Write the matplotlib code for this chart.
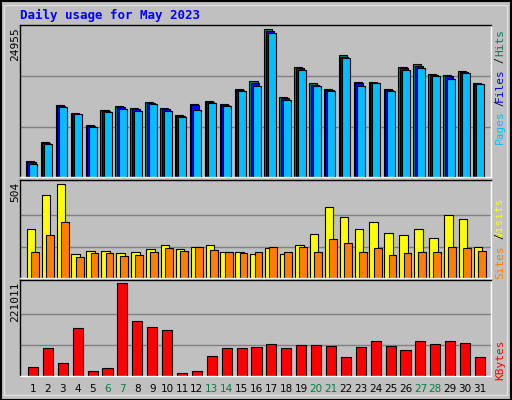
import matplotlib
matplotlib.use("Agg")
import matplotlib.pyplot as plt
import numpy as np

days = list(range(1, 32))
weekend = [6, 7, 13, 14, 20, 21, 27, 28]
# values
hits = [2654, 5872, 12139, 10784, 8751, 11292, 11970, 11631, 12647, 11631, 10445, 12308, 12817, 12308,
        14849, 16204, 24955, 13494, 18575, 15865, 14849, 20608, 16035, 16035, 14849, 18575, 19084,
        17390, 17220, 17898, 15865]
files = [2485, 5702, 11970, 10614, 8581, 11123, 11800, 11462, 12478, 11462, 10275, 12139, 12647, 12139,
         14679, 15865, 24616, 13325, 18405, 15526, 14679, 20270, 15865, 15865, 14679, 18405, 18800,
         17220, 17051, 17729, 15696]
pages = [2146, 5533, 11800, 10614, 8412, 10953, 11462, 11123, 12308, 11123, 10106, 11292, 12478, 11970,
         14510, 15358, 24334, 12986, 18067, 15358, 14510, 20100, 15358, 15865, 14510, 18067, 18405,
         17051, 16543, 17560, 15696]
visits = [264, 443, 504, 127, 144, 144, 133, 138, 155, 177, 155, 166, 177, 138, 138, 127, 160, 127,
          177, 237, 379, 324, 264, 297, 242, 231, 264, 215, 339, 317, 166]
sites = [138, 231, 297, 111, 133, 133, 117, 122, 138, 160, 144, 166, 149, 138, 133, 138, 166, 138,
         166, 138, 209, 187, 138, 160, 122, 133, 138, 138, 166, 160, 144]
kbytes = [22585, 66142, 29844, 114516, 12905, 20164, 221011, 131453, 116936, 109677, 8066, 12905,
          46785, 66142, 66142, 68562, 75820, 66142, 73401, 73401, 70981, 44366, 68562, 83079, 70981,
          61303, 83079, 75820, 83079, 78240, 44366]

W, H = 512, 400
fig = plt.figure(figsize=(W / 100, H / 100), dpi=100)
fig.patch.set_facecolor("#C0C0C0")
fig.add_artist(plt.Rectangle((0.5 / W, 0.5 / H), 1 - 1.5 / W, 1 - 1.5 / H, transform=fig.transFigure,
                             fill=False, edgecolor="black", lw=1.5))
fig.add_artist(plt.Rectangle((4 / W, 5 / H), 1 - 9 / W, 1 - 10 / H, transform=fig.transFigure,
                             fill=False, edgecolor="#E0E0E0", lw=1))

mono = "DejaVu Sans Mono"
x0, x1 = 20, 491
xl = (1 - 13 / 14.9, 31 + 11 / 14.9)
d = np.array(days)


def mkax(ytop, ybot):
    ax = fig.add_axes([x0 / W, 1 - ybot / H, (x1 - x0) / W, (ybot - ytop) / H])
    ax.set_facecolor("#C0C0C0")
    ax.set_xlim(*xl)
    ax.set_xticks([]); ax.set_yticks([])
    for s in ax.spines.values():
        s.set_color("black"); s.set_linewidth(1)
    ax.spines["right"].set_color("white"); ax.spines["bottom"].set_color("white")
    return ax


ax1 = mkax(25, 177)
ax1.set_ylim(0, 25690)
for g in (8400, 16990):
    ax1.axhline(g, color="#808080", lw=1, zorder=0)
bw = 0.54
ax1.bar(d - 0.2, hits, bw, color="#00805C", edgecolor="black", lw=0.8)
ax1.bar(d - 0.1, files, bw, color="#0000FF", edgecolor="black", lw=0.8)
ax1.bar(d + 0.03, pages, bw, color="#00BFFF", edgecolor="black", lw=0.8)

ax2 = mkax(180, 278)
ax2.set_ylim(0, 524)
for g in (168, 336):
    ax2.axhline(g, color="#808080", lw=1, zorder=0)
ax2.bar(d - 0.13, visits, 0.58, color="#FFFF00", edgecolor="black", lw=0.8)
ax2.bar(d + 0.13, sites, 0.52, color="#FF8000", edgecolor="black", lw=0.8)

ax3 = mkax(280, 376)
ax3.set_ylim(0, 229000)
for g in (73670, 147340):
    ax3.axhline(g, color="#808080", lw=1, zorder=0)
ax3.bar(d, kbytes, 0.68, color="#FF0000", edgecolor="black", lw=0.8)

for dd in days:
    ax3.text(dd, -0.14, str(dd), transform=ax3.get_xaxis_transform(), ha="center", va="center",
             fontsize=7.5, family="DejaVu Sans", color="#008040" if dd in weekend else "black")

fig.text(20 / W, 1 - 15 / H, "Daily usage for May 2023", color="#0000FF", family=mono,
         fontweight="bold", fontsize=9, va="center", ha="left")


def vt(x, y, s, c, fs=8):
    fig.text(x / W, 1 - y / H, s, rotation=90, color=c, family=mono, fontsize=fs, ha="center", va="top")


vt(15, 27, "24955", "black")
vt(15, 182, "504", "black")
vt(15, 282, "221011", "black")
vt(500, 29, "Hits", "#008060")
vt(500, 57, "/", "black", 7)
vt(500, 68, "Files", "#0000FF")
vt(500, 100, "/", "black", 7)
vt(500, 110, "Pages", "#00BFFF")
vt(500, 198, "Visits", "#FFFF00")
vt(500, 233, "/", "black", 7)
vt(500, 245, "Sites", "#FF8000")
vt(500, 340, "KBytes", "#FF0000")

fig.savefig("out.png", dpi=100, facecolor=fig.get_facecolor())
